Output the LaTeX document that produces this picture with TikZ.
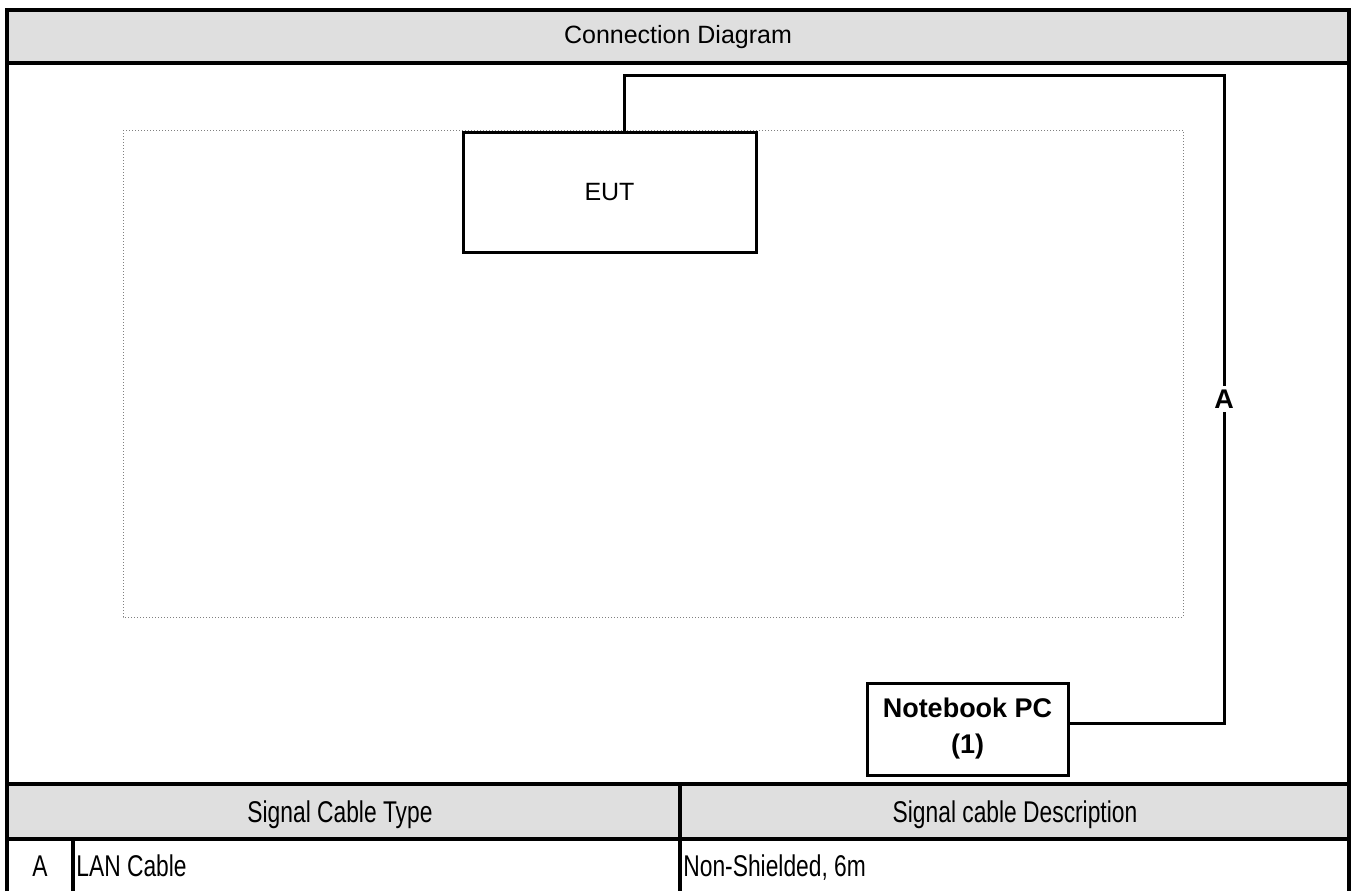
\documentclass[tikz,border=0pt]{standalone}
\usepackage{fontspec}
\setmainfont{Liberation Sans}
\newfontfamily\narrowfont[FakeStretch=0.76]{Liberation Sans}
\usetikzlibrary{positioning}
\definecolor{headgray}{HTML}{DFDFDF}
\tikzset{
	boxnode/.style={
			shape=rectangle,
			draw=black,
			line width=1.5pt,
			fill=white,
			inner sep=0pt
		},
	eutnode/.style={
			boxnode,
			minimum width=146.5pt,
			minimum height=60pt,
			font=\fontsize{12.5}{14}\selectfont
		},
	pcnode/.style={
			boxnode,
			minimum width=100.5pt,
			minimum height=46pt,
			align=center,
			font=\fontsize{13.5}{18}\selectfont\bfseries
		},
	cable/.style={
			line width=1.5pt
		},
	cablelabel/.style={
			fill=white,
			inner sep=2pt,
			font=\fontsize{13.5}{15}\selectfont\bfseries
		},
	framedot/.style={
			draw=gray,
			densely dotted,
			line width=0.5pt
		},
	frameline/.style={
			line width=1.6pt
		},
	titletext/.style={font=\fontsize{12.5}{15}\selectfont, inner sep=0pt},
	celltext/.style={font=\narrowfont\fontsize{15}{18}\selectfont, inner sep=0pt, anchor=base}
}
\begin{document}
\begin{tikzpicture}[x=0.5pt, y=-0.5pt]

				\useasboundingbox (0,0) rectangle (1354,891);

				\fill[headgray] (7,10) rectangle (1349,63);
				\fill[headgray] (7,784) rectangle (1349,839);

				\node[titletext] (title) at (678,37) {Connection Diagram};

				\draw[framedot] (123,130) rectangle (1183,617);

				\node[eutnode] (eut) at (609.5,192) {EUT};
				\node[pcnode] (pc) at (967.5,729) {Notebook PC\\(1)};

				\coordinate (c1) at (624,75);
				\coordinate (c2) at (1224,75);

				\draw[cable] (eut.north -| c1) |- (c2) |- ([yshift=3pt]pc.east);
				\node[cablelabel] (lbla) at (1224,399) {A};

				\draw[frameline] (7,891) -- (7,10) -- (1349,10) -- (1349,891);
				\draw[frameline] (7,63) -- (1349,63);
				\draw[frameline] (7,784) -- (1349,784);
				\draw[frameline] (7,839) -- (1349,839);
				\draw[frameline] (680,784) -- (680,891);
				\draw[frameline] (73,839) -- (73,891);

				\node[celltext] (typehead) at (340,822) {Signal Cable Type};
				\node[celltext] (deschead) at (1015,822) {Signal cable Description};
				\node[celltext] (rowa) at (40,876) {A};
				\node[celltext, anchor=base west] (rowatype) at (76,876) {LAN Cable};
				\node[celltext, anchor=base west] (rowadesc) at (683,876) {Non-Shielded, 6m};

			\end{tikzpicture}
\end{document}
